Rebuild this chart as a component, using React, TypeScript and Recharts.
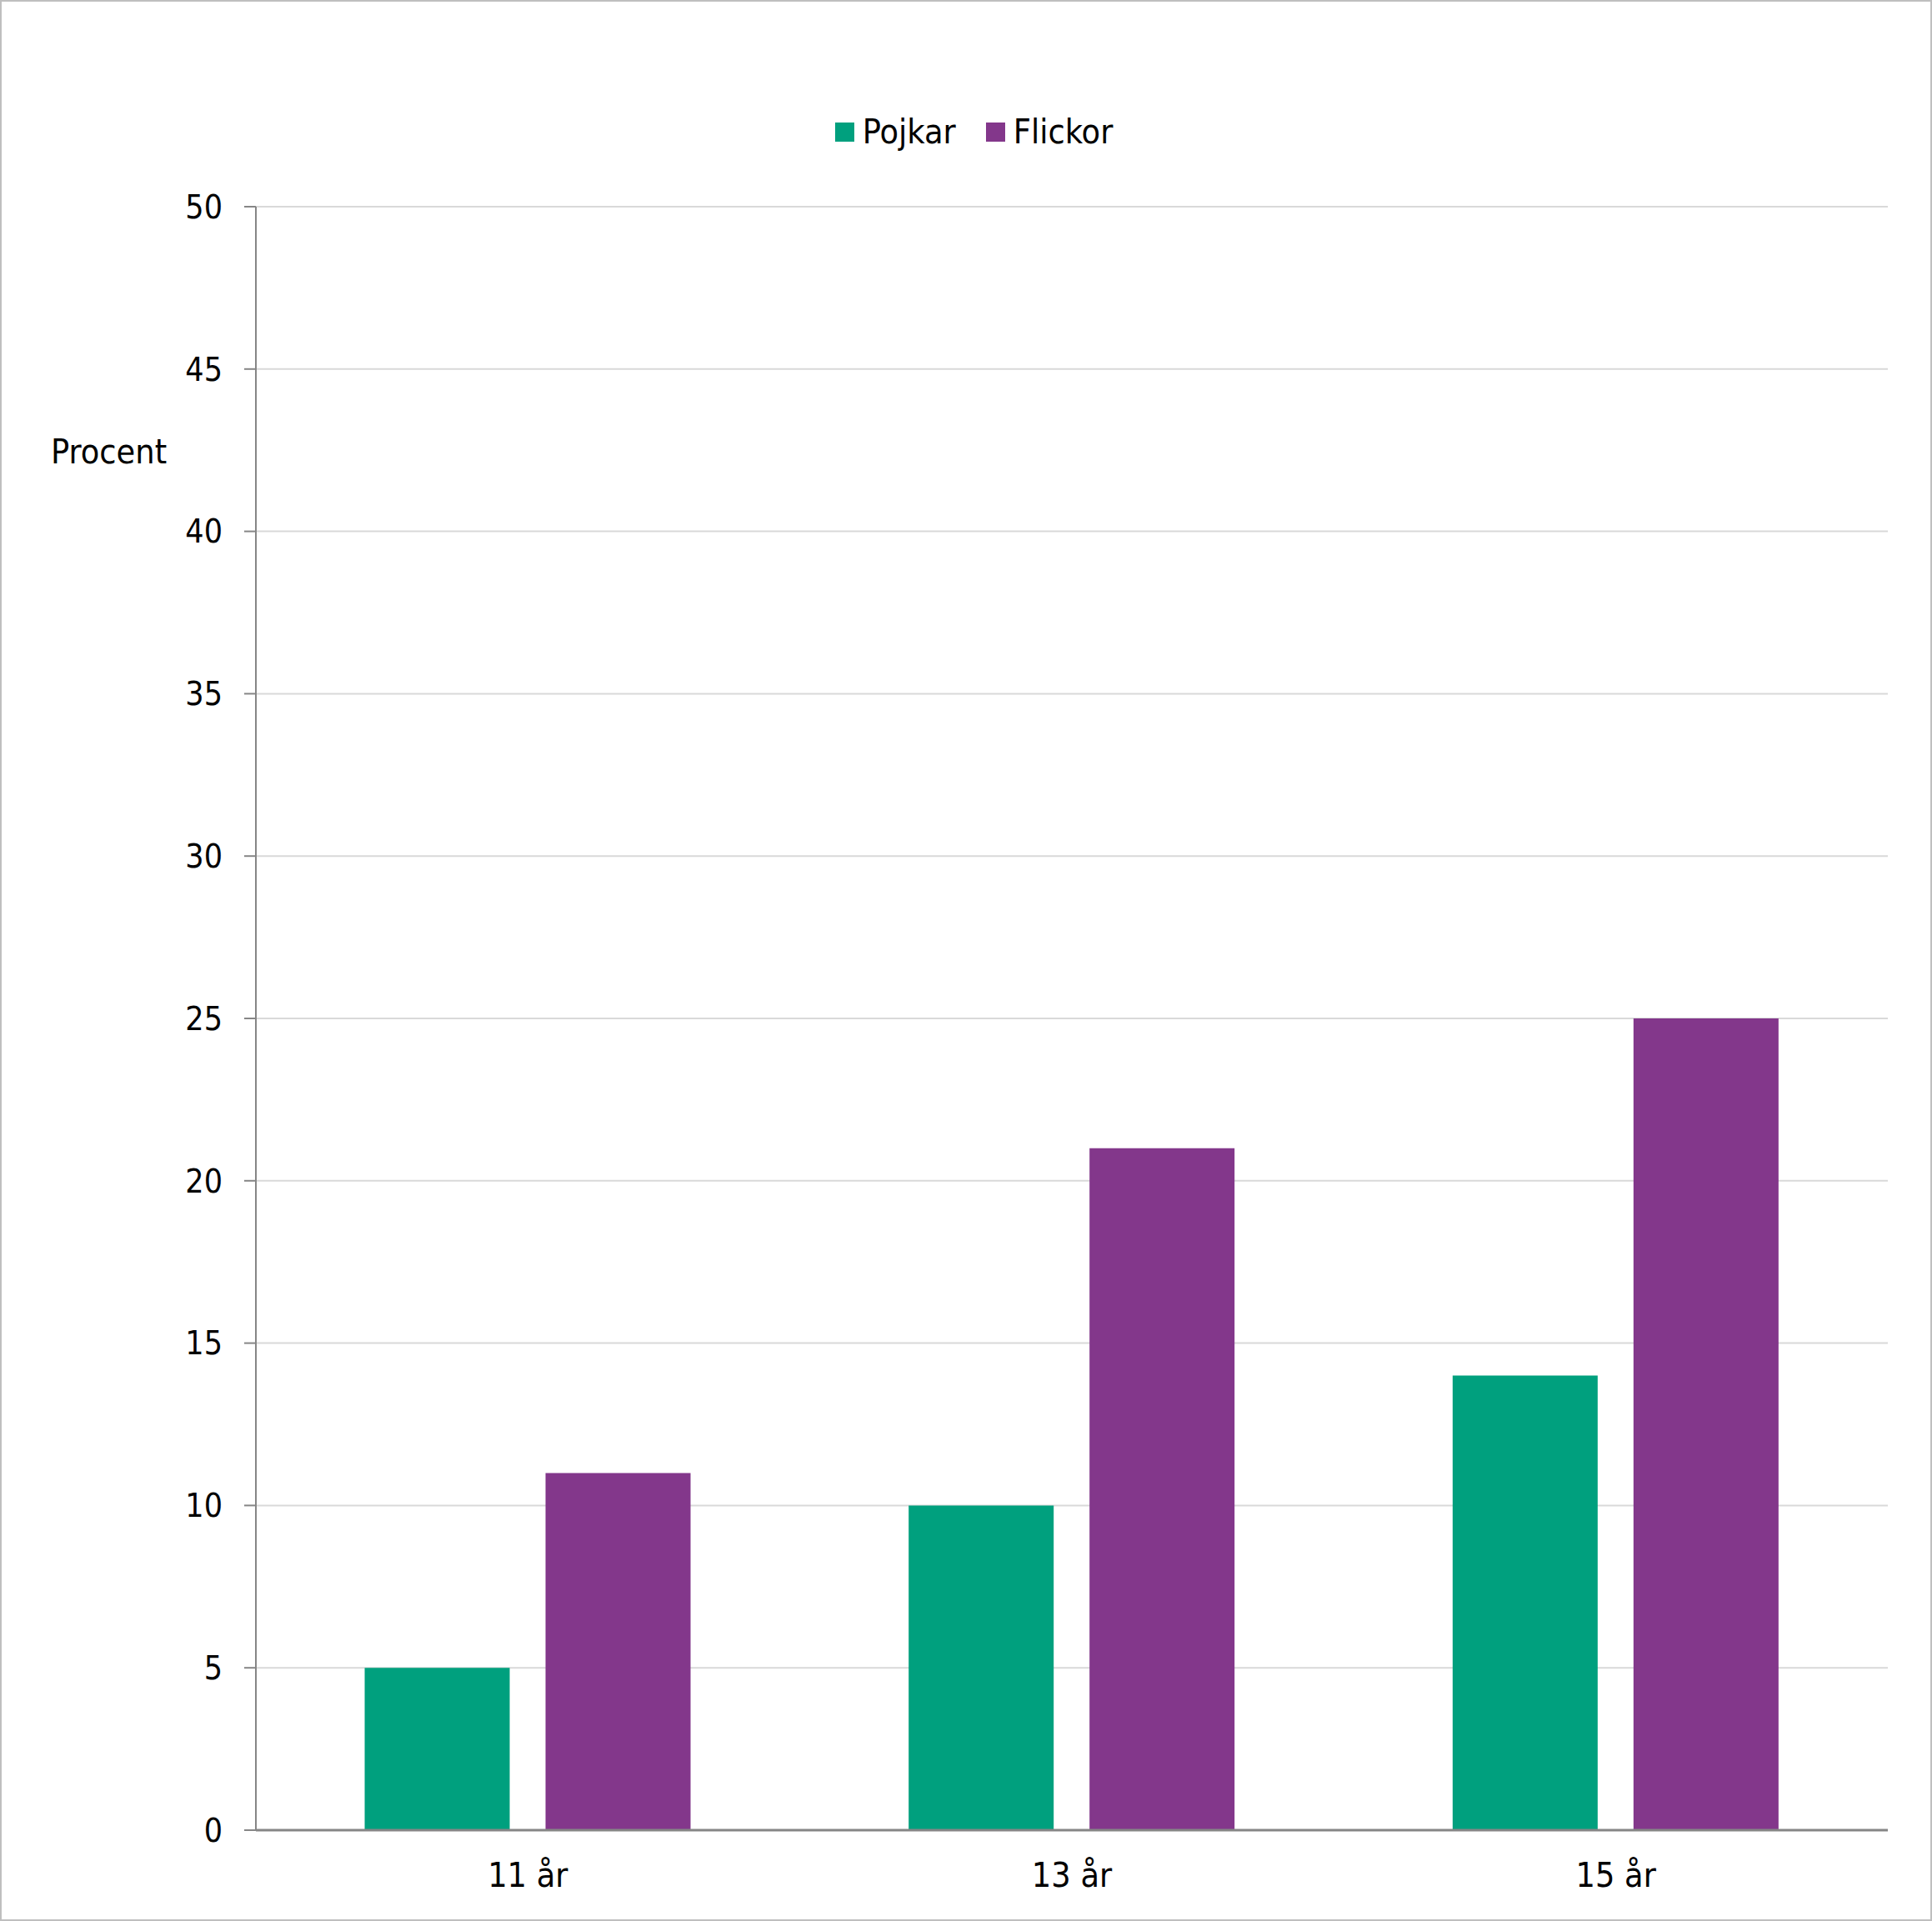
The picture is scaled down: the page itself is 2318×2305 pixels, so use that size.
import React from "react";
import { BarChart, Bar, XAxis, YAxis, CartesianGrid, Legend } from "recharts";

const categories = ["11 år", "13 år", "15 år"];
const pojkar = [5, 10, 14];
const flickor = [11, 21, 25];
const yTicks = [0, 5, 10, 15, 20, 25, 30, 35, 40, 45, 50];

const FONT = '"DejaVu Sans Condensed", "Liberation Sans", sans-serif';
const GREEN = "#00a07e";
const PURPLE = "#83378b";

const data = categories.map((c, i) => ({
  name: c,
  Pojkar: pojkar[i],
  Flickor: flickor[i],
}));

function LegendContent() {
  const items = [
    { label: "Pojkar", color: GREEN },
    { label: "Flickor", color: PURPLE },
  ];
  return (
    <div
      style={{
        display: "flex",
        justifyContent: "center",
        alignItems: "center",
        height: 40,
        paddingLeft: 19,
        fontFamily: FONT,
        fontSize: 41,
        color: "#000",
      }}
    >
      {items.map((it, i) => (
        <div
          key={it.label}
          style={{ display: "flex", alignItems: "center", marginLeft: i ? 36 : 0 }}
        >
          <span style={{ width: 23, height: 23, background: it.color, marginRight: 10 }} />
          <span>{it.label}</span>
        </div>
      ))}
    </div>
  );
}

export default function App() {
  return (
    <div
      style={{
        position: "absolute",
        left: 0,
        top: 0,
        width: 2318,
        height: 2305,
        boxSizing: "border-box",
        border: "2px solid #bfbfbf",
        background: "#fff",
      }}
    >
      <div style={{ position: "absolute", left: -2, top: -2 }}>
        <BarChart
          width={2318}
          height={2305}
          data={data}
          margin={{ top: 208, right: 53, bottom: 29, left: 0 }}
          barCategoryGap="20%"
          barGap={43}
        >
          <CartesianGrid vertical={false} stroke="#d9d9d9" strokeWidth={2} />
          <XAxis
            dataKey="name"
            height={80}
            tickLine={false}
            tickSize={0}
            tickMargin={39}
            axisLine={{ stroke: "#868686", strokeWidth: 3 }}
            tick={{ fill: "#000", fontSize: 41, fontFamily: FONT }}
          />
          <YAxis
            width={307}
            domain={[0, 50]}
            ticks={yTicks}
            interval={0}
            tickSize={14}
            tickMargin={26}
            axisLine={{ stroke: "#868686", strokeWidth: 2 }}
            tickLine={{ stroke: "#868686", strokeWidth: 2 }}
            tick={{ fill: "#000", fontSize: 39, fontFamily: FONT }}
            label={{
              content: () => (
                <text x={61} y={556} fontSize={41} fontFamily={FONT} fill="#000">
                  Procent
                </text>
              ),
            }}
          />
          <Legend
            verticalAlign="top"
            content={<LegendContent />}
            wrapperStyle={{ top: 138, left: 0, width: 2318 }}
          />
          <Bar dataKey="Pojkar" fill={GREEN} isAnimationActive={false} />
          <Bar dataKey="Flickor" fill={PURPLE} isAnimationActive={false} />
        </BarChart>
      </div>
    </div>
  );
}
